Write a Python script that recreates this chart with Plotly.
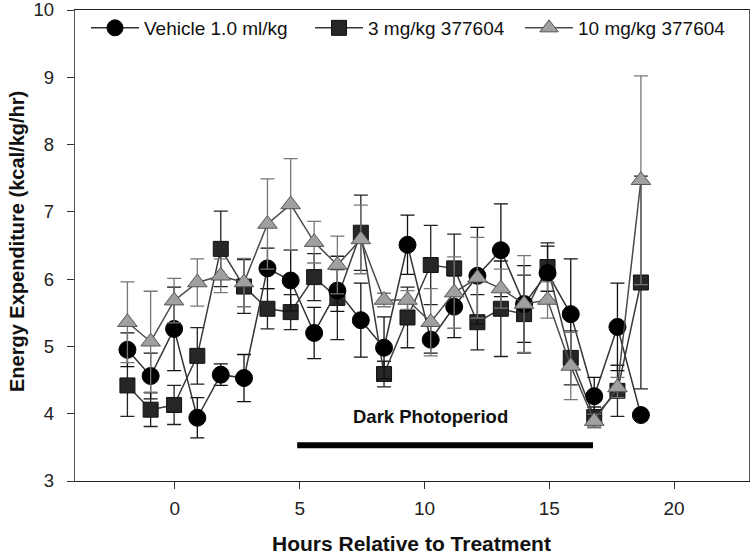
import plotly.graph_objects as go

hours = [-1.9, -0.97, -0.03, 0.9, 1.84, 2.77, 3.71, 4.64, 5.58, 6.51, 7.45, 8.38,
         9.32, 10.25, 11.19, 12.12, 13.06, 13.99, 14.93, 15.86, 16.8, 17.73, 18.67]

vehicle = [4.95, 4.56, 5.26, 3.94, 4.58, 4.53, 6.16, 5.98, 5.20, 5.83, 5.39, 4.98,
           6.51, 5.10, 5.59, 6.05, 6.43, 5.63, 6.09, 5.48, 4.26, 5.29, 3.98]
vehicle_err = [0.25, 0.34, 0.62, 0.30, 0.16, 0.35, 0.30, 0.45, 0.38, 0.31, 0.55, 0.46,
               0.44, 0.20, 0.46, 0.72, 0.69, 0.57, 0.40, 0.82, 0.28, 0.65, 0.0]

dose3 = [4.42, 4.06, 4.13, 4.86, 6.45, 5.89, 5.56, 5.51, 6.03, 5.72, 6.69, 4.59,
         5.43, 6.21, 6.16, 5.36, 5.56, 5.48, 6.18, 4.83, 3.95, 4.34, 5.95]
dose3_err = [0.46, 0.25, 0.29, 0.42, 0.56, 0.40, 0.30, 0.26, 0.35, 0.62, 0.56, 0.19,
             0.45, 0.59, 0.51, 0.41, 0.71, 0.58, 0.36, 0.40, 0.15, 0.38, 1.58]

dose10 = [5.36, 5.07, 5.68, 5.95, 6.05, 5.95, 6.82, 7.11, 6.55, 6.21, 6.59, 5.69,
          5.69, 5.36, 5.80, 6.02, 5.86, 5.63, 5.69, 4.71, 3.89, 4.39, 7.47]
dose10_err = [0.60, 0.75, 0.33, 0.35, 0.25, 0.36, 0.67, 0.68, 0.31, 0.43, 0.51, 0.10,
              0.14, 0.50, 0.53, 0.60, 0.29, 0.72, 0.27, 0.50, 0.10, 0.15, 1.55]

names = ["Vehicle 1.0 ml/kg", "3 mg/kg 377604", "10 mg/kg 377604"]

dark_hours = [4.9, 16.75]
dark_level = [3.53, 3.53]
dark_label = "Dark Photoperiod"
dark_label_pos = (10.24, 3.96)

x_ticks = [0, 5, 10, 15, 20]
y_ticks = [3, 4, 5, 6, 7, 8, 9, 10]

x_title = "Hours Relative to Treatment"
y_title = "Energy Expenditure (kcal/kg/hr)"

FONT = "Arial, Liberation Sans, sans-serif"

fig = go.Figure()

# draw order: squares, circles, triangles (triangles on top)
fig.add_trace(go.Scatter(
    x=hours, y=dose3, name=names[1], legend="legend2", mode="lines+markers",
    line=dict(color="#3a3a3a", width=1.5),
    marker=dict(symbol="square", size=15, color="#262626",
                line=dict(color="#111111", width=1)),
    error_y=dict(type="data", array=dose3_err, visible=True,
                 color="#222222", thickness=1.3, width=7),
))
fig.add_trace(go.Scatter(
    x=hours, y=vehicle, name=names[0], legend="legend", mode="lines+markers",
    line=dict(color="#333333", width=1.5),
    marker=dict(symbol="circle", size=17, color="#000000",
                line=dict(color="#000000", width=1)),
    error_y=dict(type="data", array=vehicle_err, visible=True,
                 color="#111111", thickness=1.3, width=7),
))
fig.add_trace(go.Scatter(
    x=hours, y=dose10, name=names[2], legend="legend3", mode="lines+markers",
    line=dict(color="#4a4a4a", width=1.5),
    marker=dict(symbol="triangle-up", size=17, color="#a0a0a0",
                line=dict(color="#555555", width=1)),
    error_y=dict(type="data", array=dose10_err, visible=True,
                 color="#777777", thickness=1.3, width=7),
))

fig.add_trace(go.Scatter(
    x=dark_hours, y=dark_level, mode="lines", showlegend=False,
    line=dict(color="#000000", width=6), hoverinfo="skip",
))

fig.add_annotation(x=dark_label_pos[0], y=dark_label_pos[1], text="<b>" + dark_label + "</b>",
                   showarrow=False, font=dict(family=FONT, size=18.5, color="#111111"),
                   xanchor="center", yanchor="middle")

PLOT_L, PLOT_W = 75, 674
PLOT_T, PLOT_H = 10, 471
legend_row_y = 1 - (28 - PLOT_T) / PLOT_H

# axis titles placed as annotations (pixel positions converted to paper fractions)
fig.add_annotation(xref="paper", yref="paper",
                   x=(411 - PLOT_L) / PLOT_W, y=1 - (543 - PLOT_T) / PLOT_H,
                   text="<b>" + x_title + "</b>", showarrow=False,
                   xanchor="center", yanchor="middle",
                   font=dict(family=FONT, size=21, color="#111111"))
fig.add_annotation(xref="paper", yref="paper",
                   x=(17 - PLOT_L) / PLOT_W, y=1 - (242 - PLOT_T) / PLOT_H,
                   text="<b>" + y_title + "</b>", showarrow=False, textangle=-90,
                   xanchor="center", yanchor="middle",
                   font=dict(family=FONT, size=20, color="#111111"))


def leg(px_left):
    return dict(orientation="h", x=(px_left - PLOT_L) / PLOT_W, y=legend_row_y,
                xanchor="left", yanchor="middle", bgcolor="rgba(0,0,0,0)",
                borderwidth=0, itemwidth=48,
                font=dict(family=FONT, size=19, color="#111111"))


fig.update_layout(
    width=750, height=556,
    margin=dict(l=PLOT_L, r=1, t=PLOT_T, b=556 - PLOT_T - PLOT_H, autoexpand=False),
    paper_bgcolor="white", plot_bgcolor="white",
    font=dict(family=FONT, color="#222222"),
    showlegend=True,
    legend=leg(86),
    legend2=leg(310),
    legend3=leg(520),
    xaxis=dict(range=[-4, 23], tickvals=x_ticks, ticks="outside", ticklen=7,
               tickcolor="#333333", showline=True, linecolor="#222222", linewidth=1.3,
               mirror=True, showgrid=False, zeroline=False, automargin=False,
               ticklabelstandoff=3, ticklabeloverflow="allow",
               tickfont=dict(size=19, color="#222222")),
    yaxis=dict(range=[3, 10], tickvals=y_ticks, ticks="outside", ticklen=7,
               tickcolor="#333333", showline=True, linecolor="#555555", linewidth=1.3,
               mirror=True, showgrid=False, zeroline=False, automargin=False,
               ticklabelstandoff=9, ticklabeloverflow="allow",
               tickfont=dict(size=18.5, color="#222222")),
)

fig.write_html("out.html", config={"displayModeBar": False},
               post_script="document.body.style.margin='0';document.body.style.overflow='hidden';")
